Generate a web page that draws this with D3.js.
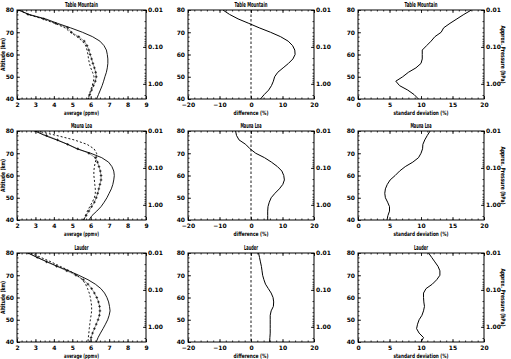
<!DOCTYPE html>
<html><head><meta charset="utf-8">
<script src="https://cdn.jsdelivr.net/npm/d3@7"></script>
<style>
body{margin:0;background:#fff}
svg{display:block}
text{font-family:"DejaVu Sans",sans-serif;font-weight:bold;fill:#000}
</style>
</head><body><svg id="c" width="511" height="359"></svg>
<script>
// ---------------- data ----------------
const altitudes = [80,78,76,74,72,70,68,66,64,62,60,58,56,54,52,50,48,46,44,42,40];
const sites = ["Table Mountain","Mauna Loa","Lauder"];

// average (ppmv): solid, plus-marker and dashed profiles
const tmAvgSolid  = [2.1,2.65,3.55,4.2,4.9,5.55,6.1,6.5,6.72,6.85,6.9,6.93,6.93,6.9,6.85,6.77,6.7,6.62,6.52,6.42,6.32];
const tmAvgPlus   = [2.1,2.6,3.45,4.1,4.75,4.95,5.35,5.65,5.8,5.9,5.97,6.05,6.12,6.2,6.27,6.3,6.25,6.15,6.05,5.95,5.88];
const tmAvgDash   = [2.1,2.6,3.4,4.05,4.6,4.9,5.25,5.55,5.72,5.8,5.85,5.88,5.93,6.0,6.1,6.18,6.15,6.08,6.0,5.92,5.85];
const mlAvgSolid  = [2.98,3.5,4.15,4.75,5.25,6.0,6.6,6.97,7.15,7.25,7.28,7.25,7.2,7.12,7.0,6.88,6.73,6.56,6.33,6.07,5.9];
const mlAvgPlus   = [2.98,3.6,4.2,4.75,5.3,5.9,6.25,6.37,6.45,6.52,6.56,6.56,6.5,6.44,6.38,6.3,6.2,6.05,5.9,5.75,5.62];
const mlAvgDash   = [3.1,4.15,5.1,5.8,6.18,6.32,6.32,6.25,6.2,6.17,6.17,6.2,6.22,6.25,6.25,6.2,6.08,5.95,5.82,5.72,5.62];
const laAvgSolid  = [2.6,3.1,3.65,4.2,4.8,5.35,5.85,6.25,6.55,6.75,6.88,6.97,7.02,7.05,7.0,6.92,6.8,6.67,6.53,6.4,6.3];
const laAvgPlus   = [2.6,3.1,3.6,4.15,4.7,5.2,5.6,5.85,6.05,6.2,6.33,6.42,6.48,6.5,6.47,6.4,6.3,6.2,6.1,6.02,5.95];
const laAvgDash   = [2.75,3.3,3.85,4.35,4.85,5.25,5.55,5.72,5.83,5.92,5.98,6.02,6.05,6.05,6.02,5.98,5.95,5.92,5.9,5.87,5.85];

// difference (%)
const tmDiff = [-8.9,-6.8,-4.1,-0.7,2.6,6.2,9.4,11.8,13.2,13.9,14.0,13.3,11.9,10.2,8.5,7.5,7.1,6.5,5.6,4.2,3.0];
const mlDiff = [-4.9,-4.6,-3.8,-1.7,-0.3,1.5,4.3,6.5,8.4,9.8,10.4,10.6,10.1,9.0,7.6,6.4,5.8,5.4,5.3,5.3,5.3];
const laDiff = [2.4,2.7,3.0,3.3,3.5,3.7,4.1,4.6,5.5,6.4,7.0,7.2,7.1,6.4,6.1,6.1,6.1,6.1,6.1,6.0,5.9];

// standard deviation (%)
const tmStd = [18.0,16.8,15.7,14.6,13.6,13.2,12.2,11.6,10.9,10.2,10.2,10.2,10.0,9.2,8.0,7.1,6.0,6.6,7.9,8.9,9.6];
const mlStd = [11.45,11.0,10.6,10.3,10.25,10.0,9.6,8.7,7.5,6.6,5.9,5.1,4.65,4.35,4.25,4.35,4.7,5.0,5.0,4.75,4.6];
const laStd = [11.2,11.7,12.2,12.7,13.0,13.0,12.5,11.8,10.8,10.4,10.4,10.45,10.55,10.4,10.15,9.7,9.45,9.3,9.7,10.4,10.0];

// axes
const avgTicks  = [2,3,4,5,6,7,8,9];
const diffTicks = [-20,-10,0,10,20];
const stdTicks  = [0,5,10,15,20];
const altTicks  = [40,50,60,70,80];
const pressTicks = [0.01,0.1,1];
const pressLabels = ["0.01","0.10","1.00"];
const xLabels = ["average (ppmv)","difference (%)","standard deviation (%)"];

// ---------------- layout ----------------
const cols = [[17,146],[188,314],[358,484]];
const rows = [[10,99],[131,220],[253,342]];
const svg = d3.select("#c");

const avgData = [[tmAvgSolid,tmAvgPlus,tmAvgDash],[mlAvgSolid,mlAvgPlus,mlAvgDash],[laAvgSolid,laAvgPlus,laAvgDash]];
const diffData = [tmDiff,mlDiff,laDiff];
const stdData = [tmStd,mlStd,laStd];
const colDomains = [[2,9],[-20,20],[0,20]];
const colTicks = [avgTicks,diffTicks,stdTicks];
const colMinor = [0.25,2,1];

function text(g,x,y,str,size,len,anchor,rot){
  const t=g.append("text").attr("x",x).attr("y",y).attr("font-size",size)
    .attr("text-anchor",anchor||"middle").text(str);
  if(len){t.attr("textLength",len).attr("lengthAdjust","spacingAndGlyphs");}
  if(rot){t.attr("transform",`rotate(${rot},${x},${y})`);}
  return t;
}

for(let r=0;r<3;r++){
  for(let c=0;c<3;c++){
    const [x0,x1]=cols[c], [y0,y1]=rows[r];
    const x=d3.scaleLinear().domain(colDomains[c]).range([x0,x1]);
    const y=d3.scaleLinear().domain([40,80]).range([y1,y0]);
    const pBottom = 0.01*Math.pow(10,40/16.6);
    const p=d3.scaleLog().domain([0.01,pBottom]).range([y0,y1]);
    const g=svg.append("g");

    g.append("rect").attr("x",x0).attr("y",y0).attr("width",x1-x0).attr("height",y1-y0)
      .attr("fill","none").attr("stroke","#000").attr("stroke-width",1);

    const [d0,d1]=colDomains[c];
    const minors=d3.range(d0,d1+1e-9,colMinor[c]);
    g.append("g").attr("transform",`translate(0,${y1})`).call(d3.axisBottom(x).tickValues(minors).tickSize(-1.5).tickFormat(""));
    g.append("g").attr("transform",`translate(0,${y0})`).call(d3.axisTop(x).tickValues(minors).tickSize(-1.5).tickFormat(""));
    g.append("g").attr("transform",`translate(0,${y1})`).call(d3.axisBottom(x).tickValues(colTicks[c]).tickSize(-3).tickPadding(3.6).tickFormat(d3.format("d")));
    g.append("g").attr("transform",`translate(0,${y0})`).call(d3.axisTop(x).tickValues(colTicks[c]).tickSize(-3).tickFormat(""));

    g.append("g").attr("transform",`translate(${x0},0)`).call(d3.axisLeft(y).tickValues(d3.range(40,80.1,2)).tickSize(-1.5).tickFormat(""));
    g.append("g").attr("transform",`translate(${x0},0)`).call(d3.axisLeft(y).tickValues(altTicks).tickSize(-3).tickPadding(3).tickFormat(d3.format("d")));

    const pMinor=[];
    [0.01,0.1,1].forEach(b=>{for(let k=1;k<10;k++){const v=b*k; if(v<=pBottom) pMinor.push(v);}});
    g.append("g").attr("transform",`translate(${x1},0)`).call(d3.axisRight(p).tickValues(pMinor).tickSize(-1.5).tickFormat(""));
    g.append("g").attr("transform",`translate(${x1},0)`).call(d3.axisRight(p).tickValues(pressTicks).tickSize(-3).tickPadding(2).tickFormat((d,i)=>pressLabels[i]));

    g.selectAll(".domain").remove();
    g.selectAll(".tick line").attr("stroke","#000").attr("stroke-width",0.8);
    g.selectAll(".tick text").attr("font-size",6).attr("font-family","DejaVu Sans").attr("font-weight","bold").attr("fill","#000");

    text(g,(x0+x1)/2,y0-3,sites[r],7,sites[r].length*2.35);
    const xl=xLabels[c];
    text(g,(x0+x1)/2,y1+15.5,xl,6,xl.length*2.5);
    if(c===0) text(g,5,(y0+y1)/2,"Altitude (km)",6,33,"middle",-90);
    if(c===2) text(g,501,(y0+y1)/2,"Approx. Pressure (hPa)",6,58,"middle",90);

    const line=vals=>d3.line().x((d,i)=>x(vals[i])).y((d,i)=>y(altitudes[i]))(altitudes);
    const clip=`clip${r}${c}`;
    svg.append("clipPath").attr("id",clip).append("rect").attr("x",x0).attr("y",y0).attr("width",x1-x0).attr("height",y1-y0);
    const dg=g.append("g").attr("clip-path",`url(#${clip})`);
    if(c===0){
      const [s,pl,ds]=avgData[r];
      dg.append("path").attr("d",line(s)).attr("fill","none").attr("stroke","#000").attr("stroke-width",0.9);
      dg.append("path").attr("d",line(ds)).attr("fill","none").attr("stroke","#000").attr("stroke-width",0.9).attr("stroke-dasharray","2,2");
      dg.append("path").attr("d",line(pl)).attr("fill","none").attr("stroke","#000").attr("stroke-width",0.4);
      dg.selectAll("path.plus").data(altitudes).join("path").attr("class","plus")
        .attr("d",(d,i)=>{const px=x(pl[i]),py=y(d);return `M${px-1.3},${py}H${px+1.3}M${px},${py-1.3}V${py+1.3}`;})
        .attr("stroke","#000").attr("stroke-width",0.7);
    } else {
      const vals=c===1?diffData[r]:stdData[r];
      if(c===1){
        g.append("line").attr("x1",x(0)).attr("x2",x(0)).attr("y1",y0).attr("y2",y1)
          .attr("stroke","#000").attr("stroke-width",0.9).attr("stroke-dasharray","2.5,2");
      }
      dg.append("path").attr("d",line(vals)).attr("fill","none").attr("stroke","#000").attr("stroke-width",1);
    }
  }
}
</script></body></html>
